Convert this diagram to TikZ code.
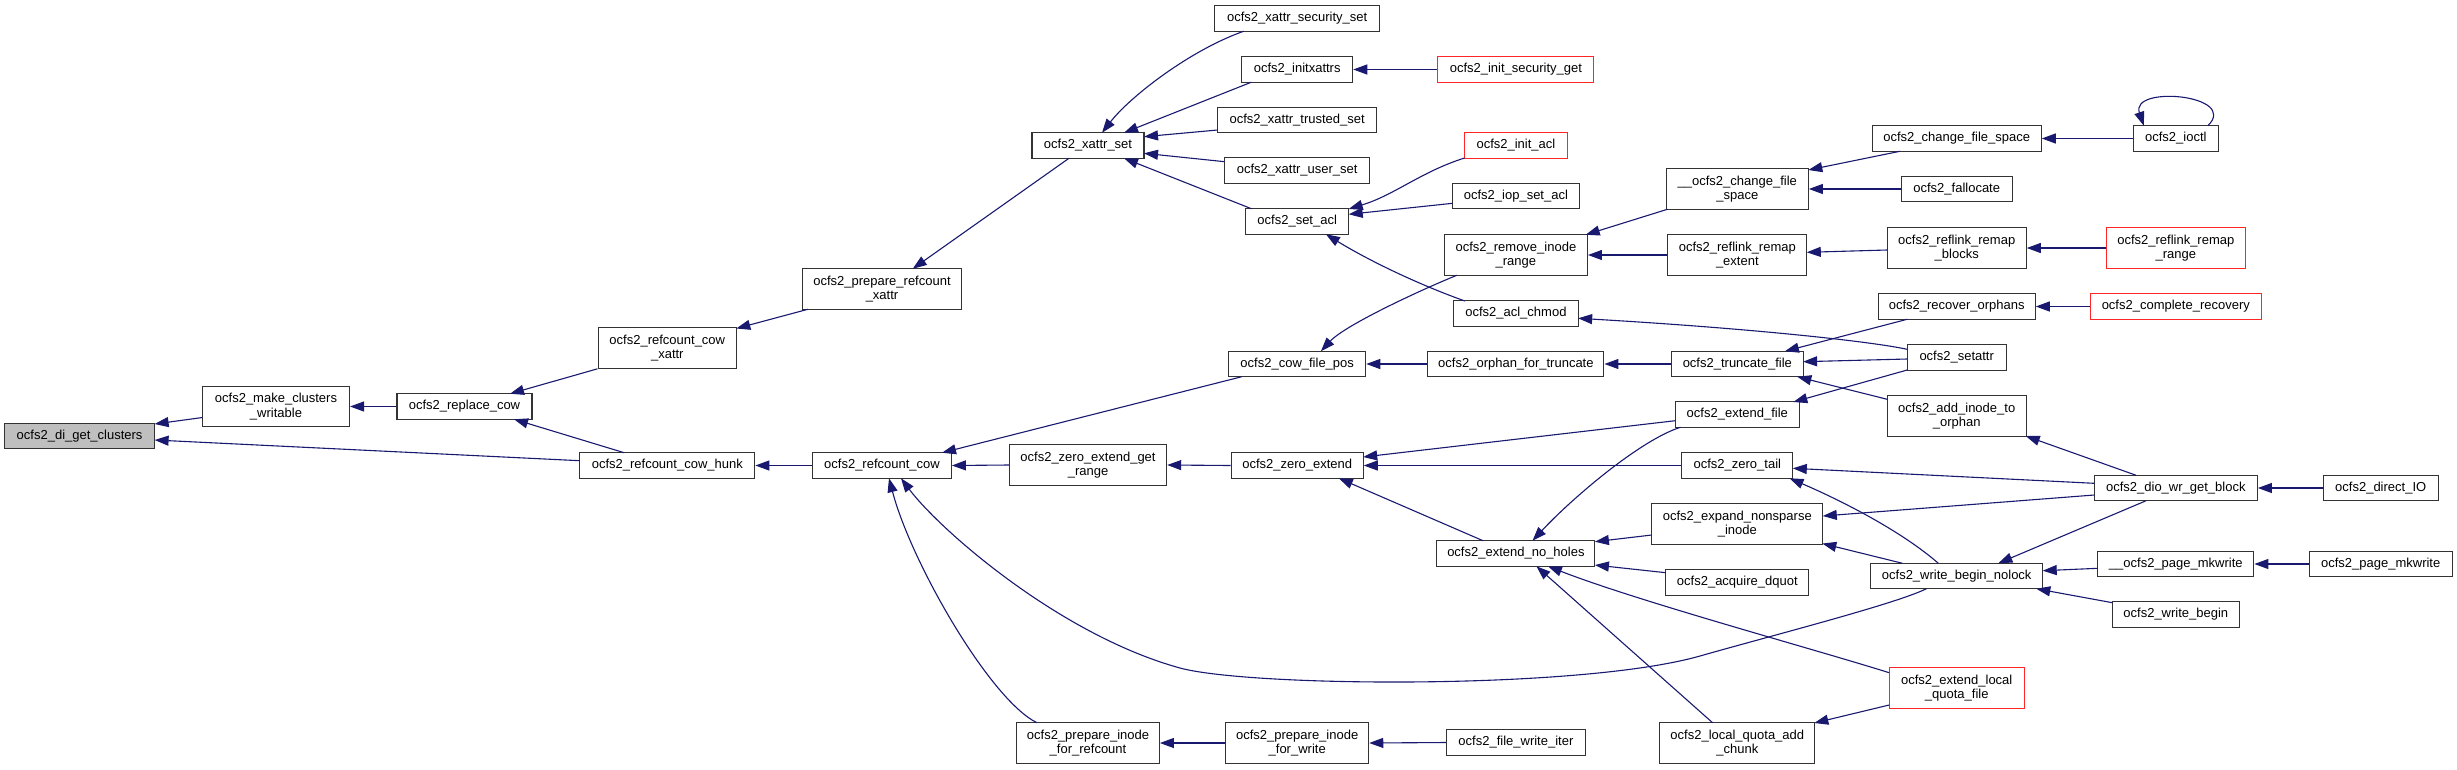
\documentclass[tikz,border=0pt]{standalone}
\usepackage{fontspec}
\setmainfont{Liberation Sans}
\usetikzlibrary{arrows.meta}
\definecolor{edgecol}{HTML}{191970}
\definecolor{rootfill}{HTML}{BFBFBF}
\definecolor{redb}{HTML}{FF0000}
\begin{document}
\begin{tikzpicture}[x=1pt,y=-1pt,
  fn/.style={draw=black!80, line width=1.1pt, fill=white, rectangle, inner sep=0pt, align=center, font=\fontsize{13}{14.5}\selectfont, minimum height=25.5},
  two/.style={minimum height=40.5},
  root/.style={fn, fill=rootfill},
  trunc/.style={fn, draw=redb!85},
  cedge/.style={draw=edgecol, line width=1.1pt, {Triangle[length=14pt,width=10pt]}-}]
\fill[white] (0,0) rectangle (2457,769);
\useasboundingbox (0,0) rectangle (2457,769);
% column 0-5
\node[root, minimum width=150] (di) at (79.6,436) {ocfs2\_di\_get\_clusters};
\node[fn, two, minimum width=147] (mcw) at (276,406.5) {ocfs2\_make\_clusters\\\_writable};
\node[fn, minimum width=135] (rc) at (464.5,406.5) {ocfs2\_replace\_cow};
\node[fn, two, minimum width=138.5] (rcx) at (667.3,348) {ocfs2\_refcount\_cow\\\_xattr};
\node[fn, minimum width=175] (rch) at (667.3,465.5) {ocfs2\_refcount\_cow\_hunk};
\node[fn, two, minimum width=158.4] (prx) at (882,289) {ocfs2\_prepare\_refcount\\\_xattr};
\node[fn, minimum width=138.7] (rcow) at (882,465.5) {ocfs2\_refcount\_cow};
\node[fn, minimum width=112] (xs) at (1088,145.5) {ocfs2\_xattr\_set};
\node[fn, two, minimum width=157.3] (zegr) at (1088,465) {ocfs2\_zero\_extend\_get\\\_range};
\node[fn, two, minimum width=142.7] (pifr) at (1088,743) {ocfs2\_prepare\_inode\\\_for\_refcount};
% column 6
\node[fn, minimum width=165] (xss) at (1297.2,18.5) {ocfs2\_xattr\_security\_set};
\node[fn, minimum width=111] (ix) at (1297.2,69.5) {ocfs2\_initxattrs};
\node[fn, minimum width=159.3] (xts) at (1297.2,120) {ocfs2\_xattr\_trusted\_set};
\node[fn, minimum width=145] (xus) at (1297.2,170.5) {ocfs2\_xattr\_user\_set};
\node[fn, minimum width=103] (sa) at (1297.2,221.5) {ocfs2\_set\_acl};
\node[fn, minimum width=137] (cfp) at (1297.2,364) {ocfs2\_cow\_file\_pos};
\node[fn, minimum width=132] (ze) at (1297.2,465.5) {ocfs2\_zero\_extend};
\node[fn, two, minimum width=143] (pifw) at (1297.2,743) {ocfs2\_prepare\_inode\\\_for\_write};
% column 7
\node[trunc, minimum width=156] (isg) at (1515.9,69.5) {ocfs2\_init\_security\_get};
\node[trunc, minimum width=103] (ia) at (1515.9,145.5) {ocfs2\_init\_acl};
\node[fn, minimum width=126.5] (isa) at (1515.9,196) {ocfs2\_iop\_set\_acl};
\node[fn, two, minimum width=143] (rir) at (1515.9,255) {ocfs2\_remove\_inode\\\_range};
\node[fn, minimum width=124.5] (ac) at (1515.9,313.5) {ocfs2\_acl\_chmod};
\node[fn, minimum width=176] (oft) at (1515.9,364) {ocfs2\_orphan\_for\_truncate};
\node[fn, minimum width=158] (enh) at (1515.9,553.5) {ocfs2\_extend\_no\_holes};
\node[fn, minimum width=138.4] (fwi) at (1515.9,742.5) {ocfs2\_file\_write\_iter};
% column 8
\node[fn, two, minimum width=142] (ucfs) at (1737.3,189) {\_\_ocfs2\_change\_file\\\_space};
\node[fn, two, minimum width=139] (rre) at (1737.3,255) {ocfs2\_reflink\_remap\\\_extent};
\node[fn, minimum width=131.6] (tf) at (1737.3,364) {ocfs2\_truncate\_file};
\node[fn, minimum width=124] (ef) at (1737.3,414.5) {ocfs2\_extend\_file};
\node[fn, minimum width=111] (zt) at (1737.3,465.5) {ocfs2\_zero\_tail};
\node[fn, two, minimum width=171] (eni) at (1737.3,524) {ocfs2\_expand\_nonsparse\\\_inode};
\node[fn, minimum width=143] (adq) at (1737.3,582.5) {ocfs2\_acquire\_dquot};
\node[fn, two, minimum width=155] (lqac) at (1737.3,743) {ocfs2\_local\_quota\_add\\\_chunk};
% column 9
\node[fn, minimum width=169] (cfs) at (1956.7,138.5) {ocfs2\_change\_file\_space};
\node[fn, minimum width=111] (fa) at (1956.7,189) {ocfs2\_fallocate};
\node[fn, two, minimum width=139] (rrb) at (1956.7,248) {ocfs2\_reflink\_remap\\\_blocks};
\node[fn, minimum width=157] (ro) at (1956.7,306.5) {ocfs2\_recover\_orphans};
\node[fn, minimum width=99] (st) at (1956.7,357.5) {ocfs2\_setattr};
\node[fn, two, minimum width=139] (aito) at (1956.7,416) {ocfs2\_add\_inode\_to\\\_orphan};
\node[fn, minimum width=172] (wbn) at (1956.7,576) {ocfs2\_write\_begin\_nolock};
\node[trunc, two, minimum width=135] (elqf) at (1956.7,688) {ocfs2\_extend\_local\\\_quota\_file};
% column 10
\node[fn, minimum width=85] (io) at (2175.8,138.5) {ocfs2\_ioctl};
\node[trunc, two, minimum width=139] (rrr) at (2175.8,248) {ocfs2\_reflink\_remap\\\_range};
\node[trunc, minimum width=171] (cr) at (2175.8,306.5) {ocfs2\_complete\_recovery};
\node[fn, minimum width=163] (dio) at (2175.8,488) {ocfs2\_dio\_wr\_get\_block};
\node[fn, minimum width=156] (upm) at (2175.8,564) {\_\_ocfs2\_page\_mkwrite};
\node[fn, minimum width=127] (wb) at (2175.8,614.5) {ocfs2\_write\_begin};
% column 11
\node[fn, minimum width=115] (dioIO) at (2380.7,488) {ocfs2\_direct\_IO};
\node[fn, minimum width=143] (pm) at (2380.7,564) {ocfs2\_page\_mkwrite};
% edges
\draw[cedge] ([shift={(75,-12)}]di.center) -- ([shift={(-73.5,11)}]mcw.center);
\draw[cedge] ([shift={(75,4)}]di.center) -- ([shift={(-87.5,-4.8)}]rch.center);
\draw[cedge] (mcw.east) -- (rc.west);
\draw[cedge] ([shift={(45.5,-12.75)}]rc.center) -- (rcx.south west);
\draw[cedge] ([shift={(49.5,12.75)}]rc.center) -- ([shift={(-43,-12.75)}]rch.center);
\draw[cedge] ([shift={(69,-19.5)}]rcx.center) -- ([shift={(-74,20.25)}]prx.center);
\draw[cedge] ([shift={(30.7,-20.25)}]prx.center) -- ([shift={(-19,12.75)}]xs.center);
\draw[cedge] ([shift={(14,-12.75)}]xs.center) .. controls +(28,-36) and +(-54,19) .. ([shift={(-53.5,12.75)}]xss.center);
\draw[cedge] ([shift={(36,-12.75)}]xs.center) -- ([shift={(-46,12.75)}]ix.center);
\draw[cedge] ([shift={(56,-8.8)}]xs.center) -- ([shift={(-79.6,10)}]xts.center);
\draw[cedge] ([shift={(56,7.8)}]xs.center) -- ([shift={(-72.5,-8.8)}]xus.center);
\draw[cedge] ([shift={(36,12.75)}]xs.center) -- ([shift={(-45.7,-12.75)}]sa.center);
\draw[cedge] (ix.east) -- (isg.west);
\draw[cedge] ([shift={(51.5,-12.5)}]sa.center) .. controls +(46,-14) and +(-44,14) .. ([shift={(-51.4,12.5)}]ia.center);
\draw[cedge] ([shift={(51.5,-7.2)}]sa.center) -- ([shift={(-63.25,7.3)}]isa.center);
\draw[cedge] ([shift={(28.7,12.75)}]sa.center) .. controls +(44,27) and +(-45,-16) .. ([shift={(-51,-12.5)}]ac.center);
\draw[cedge] (rch.east) -- (rcow.west);
\draw[cedge] ([shift={(60,-12.75)}]rcow.center) -- ([shift={(-55.6,12.75)}]cfp.center);
\draw[cedge] (rcow.east) -- (zegr.west);
\draw[cedge] ([shift={(7,12.75)}]rcow.center) .. controls +(22,84) and +(-47,-23) .. ([shift={(-51,-20.25)}]pifr.center);
\draw[cedge] ([shift={(19,12.75)}]rcow.center) .. controls +(39,52) and (1060,635) .. (1180,668) .. controls (1250,687) and (1580,690) .. (1700,656) .. controls (1770,636) and +(-30,15) .. ([shift={(-30.4,12.75)}]wbn.center);
\draw[cedge] ([shift={(23.7,-12.75)}]cfp.center) .. controls +(24,-26) and +(-37,15) .. ([shift={(-59,20.25)}]rir.center);
\draw[cedge] (cfp.east) -- (oft.west);
\draw[cedge] ([shift={(69.8,-20.25)}]rir.center) -- ([shift={(-69.8,20.25)}]ucfs.center);
\draw[cedge] (rir.east) -- (rre.west);
\draw[cedge] ([shift={(71,-19)}]ucfs.center) -- ([shift={(-56.6,12.75)}]cfs.center);
\draw[cedge] (ucfs.east) -- (fa.west);
\draw[cedge] (cfs.east) -- (io.west);
\draw[cedge] ([shift={(-32,-12.75)}]io.center) .. controls +(-14,-41) and +(32,-31) .. ([shift={(32,-12.75)}]io.center);
\draw[cedge] ([shift={(69.5,-2.7)}]rre.center) -- ([shift={(-69.5,2)}]rrb.center);
\draw[cedge] (rrb.east) -- (rrr.west);
\draw[cedge] ([shift={(62.25,4.8)}]ac.center) .. controls +(172,10) and +(-37,-8) .. ([shift={(-49.5,-8.2)}]st.center);
\draw[cedge] ([shift={(65.8,-2.3)}]tf.center) -- ([shift={(-49.5,1.5)}]st.center);
\draw[cedge] ([shift={(47.6,-12.75)}]tf.center) -- ([shift={(-49.4,12.75)}]ro.center);
\draw[cedge] ([shift={(60,12.75)}]tf.center) -- ([shift={(-69.5,-16.7)}]aito.center);
\draw[cedge] ([shift={(56,-12.5)}]ef.center) -- ([shift={(-49.5,12.5)}]st.center);
\draw[cedge] ([shift={(69,20)}]aito.center) -- ([shift={(-39.8,-12.75)}]dio.center);
\draw[cedge] ([shift={(66,-8.5)}]ze.center) -- ([shift={(-62,6.2)}]ef.center);
\draw[cedge] (ze.east) -- (zt.west);
\draw[cedge] ([shift={(41.6,12.75)}]ze.center) -- ([shift={(-32.8,-12.75)}]enh.center);
\draw[cedge] ([shift={(16.6,-12.75)}]enh.center) .. controls +(38,-41) and +(-41,13) .. ([shift={(-56.8,12.75)}]ef.center);
\draw[cedge] ([shift={(79,-11.8)}]enh.center) -- ([shift={(-85.5,11)}]eni.center);
\draw[cedge] ([shift={(79,11.5)}]enh.center) -- ([shift={(-71.5,-9.8)}]adq.center);
\draw[cedge] ([shift={(32,12.75)}]enh.center) .. controls +(90,35) and +(-80,-25) .. ([shift={(-67.5,-15.3)}]elqf.center);
\draw[cedge] ([shift={(20.5,12.75)}]enh.center) -- ([shift={(-24.7,-20.25)}]lqac.center);
\draw[cedge] (zegr.east) -- (ze.west);
\draw[cedge] (pifr.east) -- (pifw.west);
\draw[cedge] (pifw.east) -- (fwi.west);
\draw[cedge] ([shift={(55.5,2.8)}]zt.center) -- ([shift={(-81.5,-4.7)}]dio.center);
\draw[cedge] ([shift={(52.2,12.75)}]zt.center) .. controls +(51,22) and +(-38,-33) .. ([shift={(-18.4,-12.75)}]wbn.center);
\draw[cedge] ([shift={(85.5,-8)}]eni.center) -- ([shift={(-81.5,7)}]dio.center);
\draw[cedge] ([shift={(85,19.5)}]eni.center) -- ([shift={(-54.4,-12.75)}]wbn.center);
\draw[cedge] ([shift={(77,-20)}]lqac.center) -- ([shift={(-67.5,17)}]elqf.center);
\draw[cedge] ([shift={(41.6,-12.75)}]wbn.center) -- ([shift={(-29.8,12.75)}]dio.center);
\draw[cedge] ([shift={(86,-5.3)}]wbn.center) -- ([shift={(-78,4.3)}]upm.center);
\draw[cedge] ([shift={(79.6,12.75)}]wbn.center) -- ([shift={(-63.4,-11.8)}]wb.center);
\draw[cedge] (dio.east) -- (dioIO.west);
\draw[cedge] (upm.east) -- (pm.west);
\draw[cedge] (ro.east) -- (cr.west);
\draw[cedge] (oft.east) -- (tf.west);
\end{tikzpicture}
\end{document}
